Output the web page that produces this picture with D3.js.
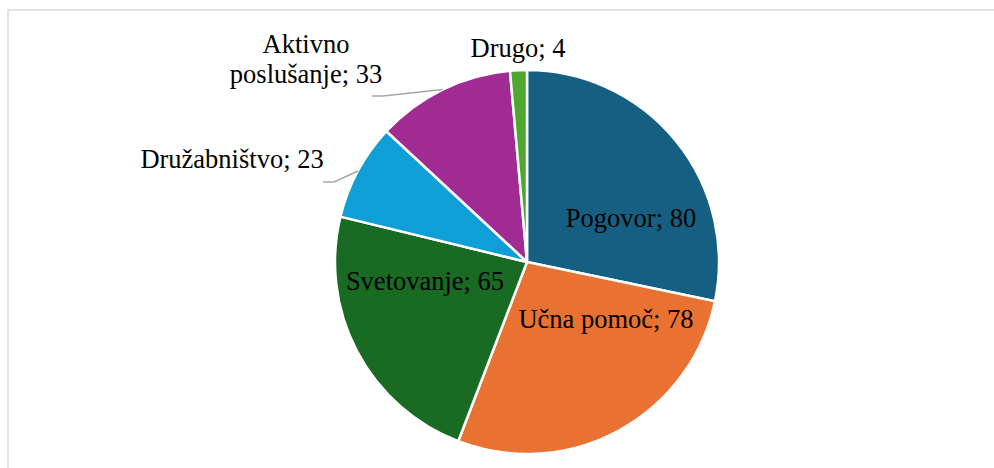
<!DOCTYPE html>
<html>
<head>
<meta charset="utf-8">
<script src="https://cdn.jsdelivr.net/npm/d3@7"></script>
<style>
html,body{margin:0;padding:0;background:#fff;}
svg{display:block;}
text{font-family:"Liberation Serif","Times New Roman",serif;}
</style>
</head>
<body>
<svg id="chart" width="994" height="468"></svg>
<script>
const categories = ["Pogovor", "Učna pomoč", "Svetovanje", "Družabništvo", "Aktivno poslušanje", "Drugo"];
const values = [80, 78, 65, 23, 33, 4];
const colors = ["#156082", "#E97132", "#196B24", "#0F9ED5", "#A02B93", "#4EA72E"];

const W = 994, H = 468;
const cx = 527, cy = 262, R = 192;
const svg = d3.select("#chart");

// chart frame
svg.append("rect").attr("x", 8).attr("y", 10).attr("width", 1000).attr("height", 500)
  .attr("fill", "none").attr("stroke", "#d9d9d9").attr("stroke-width", 1.5);

const data = categories.map((c, i) => ({name: c, value: values[i], color: colors[i]}));
const pie = d3.pie().value(d => d.value).sort(null);
const arcs = pie(data);
const arc = d3.arc().innerRadius(0).outerRadius(R);

const g = svg.append("g").attr("transform", `translate(${cx},${cy})`);
g.selectAll("path").data(arcs).join("path")
  .attr("d", arc)
  .attr("fill", d => d.data.color)
  .attr("stroke", "#fff").attr("stroke-width", 2.5).attr("stroke-linejoin", "round");

const fs = 26.5;
function edgePoint(a) {
  const m = (a.startAngle + a.endAngle) / 2;
  return [Math.sin(m) * R, -Math.cos(m) * R];
}

// label placement (offsets relative to pie centre)
const labelPos = [
  {lines: ["Pogovor; 80"], x: 104, y: -35},
  {lines: ["Učna pomoč; 78"], x: 79, y: 66},
  {lines: ["Svetovanje; 65"], x: -102, y: 28},
  {lines: ["Družabništvo; 23"], x: -295, y: -94, leader: [-204, -80, -193, -80]},
  {lines: ["Aktivno", "poslušanje; 33"], x: -221, y: -209, leader: [-155, -166, -144, -166]},
  {lines: ["Drugo; 4"], x: -9, y: -205}
];

arcs.forEach((a, i) => {
  const lp = labelPos[i];
  if (lp.leader) {
    const e = edgePoint(a);
    const L = lp.leader;
    g.append("path")
      .attr("d", d3.line()([[L[0], L[1]], [L[2], L[3]], e]))
      .attr("fill", "none").attr("stroke", "#a6a6a6").attr("stroke-width", 1.5);
  }
  const t = g.append("text")
    .attr("x", lp.x).attr("y", lp.y)
    .attr("text-anchor", "middle")
    .attr("font-size", fs).attr("fill", "#000");
  lp.lines.forEach((ln, k) => {
    t.append("tspan").attr("x", lp.x).attr("dy", k === 0 ? 0 : 30).text(ln);
  });
});
</script>
</body>
</html>
